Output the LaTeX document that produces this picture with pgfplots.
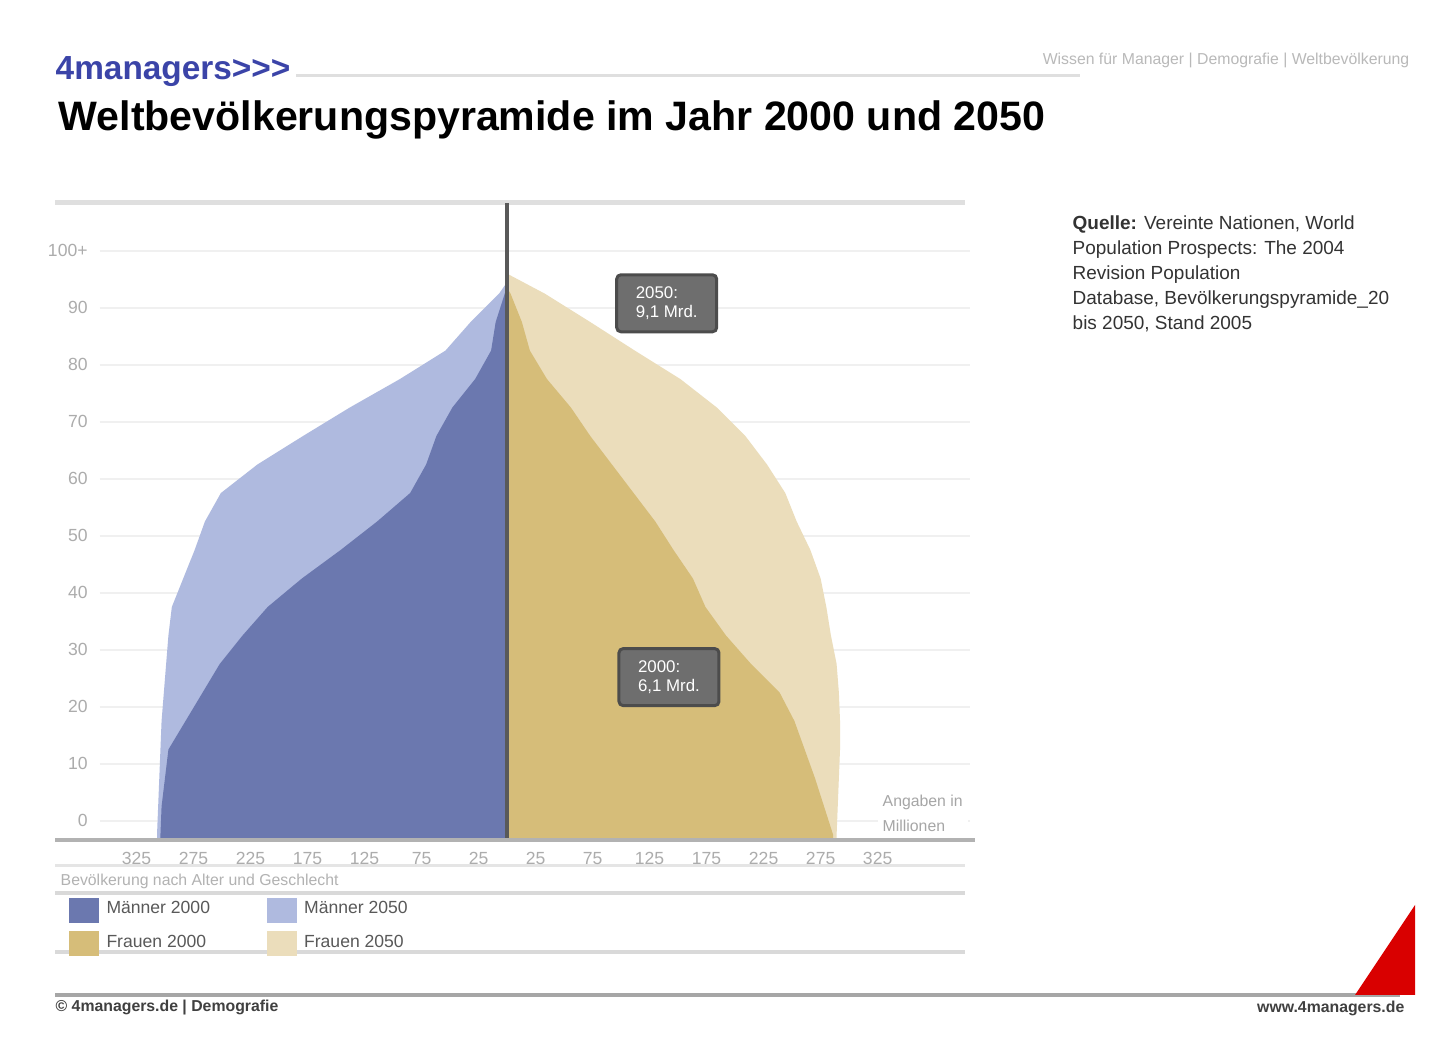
\documentclass[border=0pt]{standalone}
\usepackage{fontspec}
\setmainfont{Liberation Sans}
\usepackage{pgfplots}
\pgfplotsset{compat=1.18}
\definecolor{mdark}{HTML}{6B78AF}
\definecolor{mlight}{HTML}{AFBADF}
\definecolor{fdark}{HTML}{D6BD79}
\definecolor{flight}{HTML}{EBDDBB}
\definecolor{logoblue}{HTML}{3B44A8}
\definecolor{boxgray}{HTML}{6E6E6E}
\begin{document}
\begin{tikzpicture}
\path[use as bounding box, fill=white] (0,0) rectangle (143.4mm,104.3mm);
\begin{scope}[x=0.1mm,y=-0.1mm,shift={(0,104.3mm)}]
% frame lines (behind)
\draw[gray!25, line width=0.5mm] (55,203) -- (965,203);
\draw[gray!20, line width=0.3mm] (55,866) -- (965,866);
\draw[gray!30, line width=0.4mm] (55,893) -- (965,893);
\draw[gray!30, line width=0.4mm] (55,952) -- (965,952);
\draw[gray!70, line width=0.4mm] (55,995) -- (1400,995);
\end{scope}

\begin{axis}[
  at={(10mm,20.3mm)}, anchor=south west, scale only axis,
  width=87mm, height=63.7mm,
  xmin=-357, xmax=406, ymin=-0.88, ymax=110.9,
  axis line style={draw=none}, tick style={draw=none},
  xtick={-325,-275,...,325},
  xticklabels={325,275,225,175,125,75,25,25,75,125,175,225,275,325},
  ytick={2.5,12.5,...,102.5},
  yticklabels={0,10,20,30,40,50,60,70,80,90,100+},
  ticklabel style={text=gray!65, font=\fontsize{5}{6}\selectfont},
  /pgf/number format/assume math mode=true,
  ymajorgrids, grid style={gray!12, line width=0.2mm},
  legend style={at={(-0.048,-0.073)}, anchor=north west, draw=none, fill=none,
    font=\fontsize{5}{6}\selectfont, text=gray!70!black, row sep=0.2mm,
    /tikz/every even column/.append style={column sep=5mm}},
  legend columns=2, legend cell align=left,
  legend image code/.code={\fill[#1, draw=none] (0mm,-1.25mm) rectangle (3mm,1.25mm);},
]
% 2050 (light), behind
\addplot[fill=mlight, draw=none, forget plot] coordinates {
(0,-0.88) (-307,-0.88) (-307,0) (-306,5) (-305,10) (-304,15) (-303,20) (-301,25)
(-299,30) (-297,35) (-294,40) (-284,45) (-274,50) (-265,55) (-251,60) (-219,65)
(-179,70) (-138,75) (-94,80) (-54,85) (-32,90) (-7,95) (0,97)} -- cycle;
\addplot[fill=flight, draw=none, forget plot] coordinates {
(0,-0.88) (289,-0.88) (289,0) (290,5) (291,10) (292,15) (292,20) (291,25)
(289,30) (284,35) (280,40) (275,45) (266,50) (254,55) (244,60) (228,65)
(209,70) (184,75) (152,80) (112,85) (73,90) (33,95) (0,98.5)} -- cycle;
% 2000 (dark), front
\addplot[fill=mdark, draw=none, forget plot] coordinates {
(0,-0.88) (-304,-0.88) (-304,0) (-303,5) (-300,10) (-297,15) (-282,20) (-267,25)
(-252,30) (-232,35) (-210,40) (-180,45) (-146,50) (-114,55) (-85,60) (-71,65)
(-62,70) (-48,75) (-28,80) (-14,85) (-10,90) (-2,95) (0,96)} -- cycle;
\addplot[fill=fdark, draw=none, forget plot] coordinates {
(0,-0.88) (286,-0.88) (286,0) (278,5) (270,10) (261,15) (252,20) (239,25)
(214,30) (192,35) (174,40) (163,45) (146,50) (130,55) (111,60) (92,65)
(73,70) (56,75) (35,80) (20,85) (13,90) (3,95) (0,96)} -- cycle;
\draw[black!65, line width=0.4mm] (axis cs:0,-0.88) -- (axis cs:0,110.9);
\node[fill=boxgray, draw=black!70, line width=0.3mm, rounded corners=1.2pt, text=white, align=left,
  font=\fontsize{4.8}{5.6}\selectfont, minimum width=10mm, minimum height=4.2mm] at (axis cs:140,93.3) {2050:\\9,1 Mrd.};
\node[fill=boxgray, draw=black!70, line width=0.3mm, rounded corners=1.2pt, text=white, align=left,
  font=\fontsize{4.8}{5.6}\selectfont, minimum width=10mm, minimum height=4.2mm] at (axis cs:142,27.7) {2000:\\6,1 Mrd.};
\addlegendimage{fill=mdark}\addlegendentry{Männer 2000}
\addlegendimage{fill=mlight}\addlegendentry{Männer 2050}
\addlegendimage{fill=fdark}\addlegendentry{Frauen 2000}
\addlegendimage{fill=flight}\addlegendentry{Frauen 2050}
\end{axis}

\begin{scope}[x=0.1mm,y=-0.1mm,shift={(0,104.3mm)}]
% logo and header
\node[anchor=west, text=logoblue, inner sep=0, font=\bfseries\fontsize{9.5}{12}\selectfont] at (55,72) {4managers{>}{>}{>}};
\draw[gray!25, line width=0.3mm] (296,76) -- (1080,76);
\node[anchor=east, text=gray!55, inner sep=0, font=\fontsize{4.5}{5}\selectfont] at (1410,60) {Wissen für Manager \textbar{} Demografie \textbar{} Weltbevölkerung};
\node[anchor=west, inner sep=0, font=\bfseries\fontsize{11.7}{13}\selectfont] at (58,120) {Weltbevölkerungspyramide im Jahr 2000 und 2050};
\draw[gray!60, line width=0.4mm] (55,840) -- (975,840);
% source
\node[anchor=north west, inner sep=0, text=black!80, align=left, font=\fontsize{5.4}{7.1}\selectfont] at (1072,215)
{\textbf{Quelle:} Vereinte Nationen, World\\Population Prospects: The 2004\\Revision Population\\Database, Bevölkerungspyramide\_20\\bis 2050, Stand 2005};
% notes in plot
\fill[white] (878,792) rectangle (968,834);
\node[anchor=west, inner sep=0, text=gray!70, font=\fontsize{4.5}{5}\selectfont] at (882,802) {Angaben in};
\node[anchor=west, inner sep=0, text=gray!70, font=\fontsize{4.5}{5}\selectfont] at (882,826) {Millionen};
\node[anchor=west, inner sep=0, text=gray!60, font=\fontsize{4.5}{5}\selectfont] at (60,881) {Bevölkerung nach Alter und Geschlecht};
% footer
\node[anchor=west, inner sep=0, text=black!75, font=\bfseries\fontsize{4.5}{5}\selectfont] at (55,1008) {© 4managers.de \textbar{} Demografie};
\node[anchor=east, inner sep=0, text=black!75, font=\bfseries\fontsize{4.5}{5}\selectfont] at (1405,1008) {www.4managers.de};
\fill[red!85!black] (1355,995) -- (1415,995) -- (1415,905) -- cycle;
\end{scope}
\end{tikzpicture}
\end{document}
